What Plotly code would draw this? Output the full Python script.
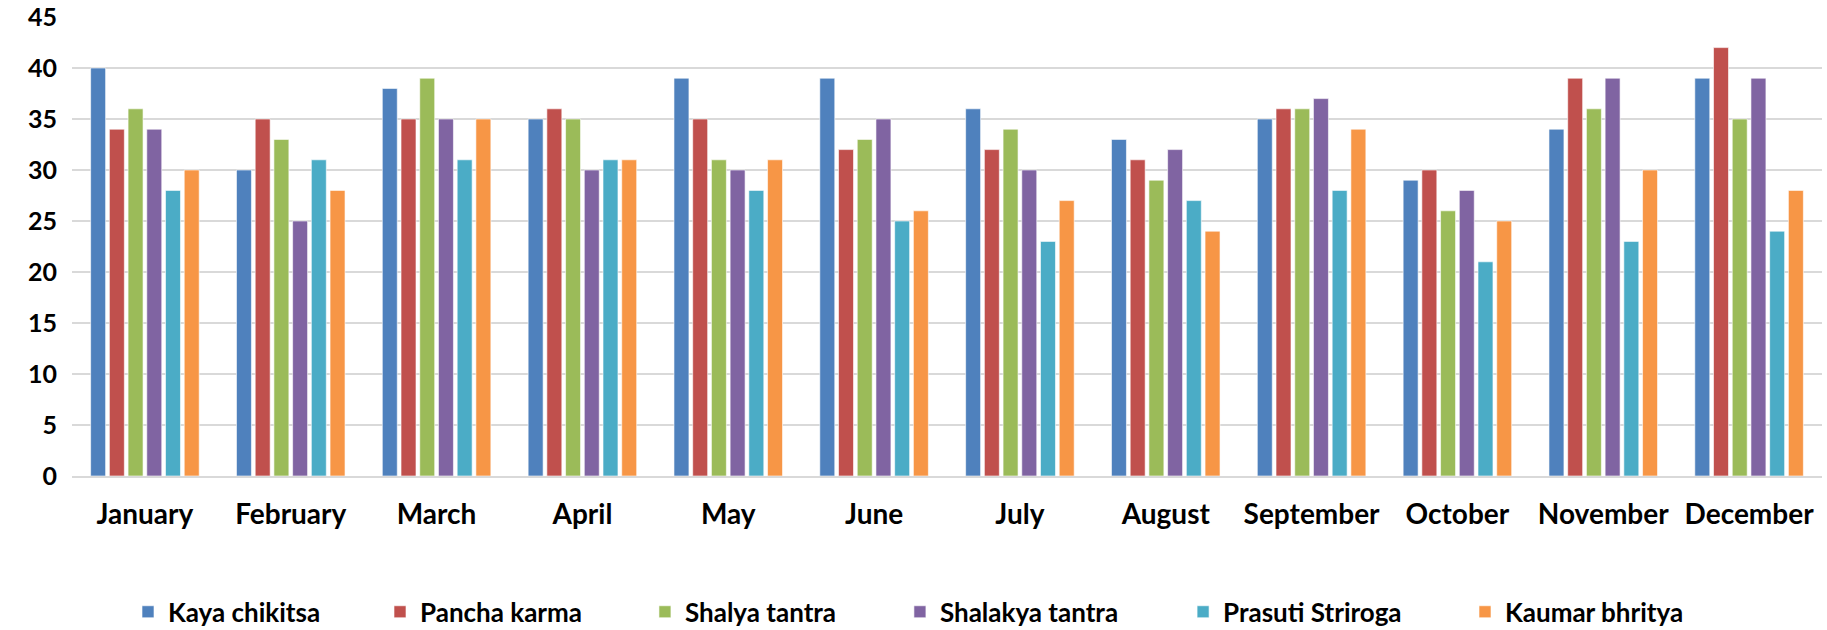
import plotly.graph_objects as go

months = ["January", "February", "March", "April", "May", "June", "July",
          "August", "September", "October", "November", "December"]

kaya_chikitsa = [40, 30, 38, 35, 39, 39, 36, 33, 35, 29, 34, 39]
pancha_karma = [34, 35, 35, 36, 35, 32, 32, 31, 36, 30, 39, 42]
shalya_tantra = [36, 33, 39, 35, 31, 33, 34, 29, 36, 26, 36, 35]
shalakya_tantra = [34, 25, 35, 30, 30, 35, 30, 32, 37, 28, 39, 39]
prasuti_striroga = [28, 31, 31, 31, 28, 25, 23, 27, 28, 21, 23, 24]
kaumar_bhritya = [30, 28, 35, 31, 31, 26, 27, 24, 34, 25, 30, 28]

series_names = ["Kaya chikitsa", "Pancha karma", "Shalya tantra",
                "Shalakya tantra", "Prasuti Striroga", "Kaumar bhritya"]
series_values = [kaya_chikitsa, pancha_karma, shalya_tantra,
                 shalakya_tantra, prasuti_striroga, kaumar_bhritya]
series_colors = ["#4F81BD", "#C0504D", "#9BBB59", "#8064A2", "#4BACC6", "#F79646"]

y_ticks = [0, 5, 10, 15, 20, 25, 30, 35, 40, 45]

# layout: horizontal position of each legend entry (paper fraction)
legend_x = [0.032, 0.176, 0.3274, 0.4731, 0.6349, 0.796]

font_family = "Lato"
legend_font = dict(family=font_family, size=26, color="black", weight="bold")

fig = go.Figure()
layout_legends = {}
for i, (name, vals, col) in enumerate(zip(series_names, series_values, series_colors)):
    key = "legend" if i == 0 else f"legend{i + 1}"
    fig.add_trace(go.Bar(
        x=months, y=vals, name=name,
        marker=dict(color=col, line=dict(color="rgba(255,255,255,0.6)", width=1)),
        legend=key,
    ))
    layout_legends[key] = dict(
        orientation="h",
        x=legend_x[i], xanchor="left",
        y=-0.296, yanchor="middle",
        font=legend_font,
        bgcolor="rgba(0,0,0,0)",
        itemclick=False, itemdoubleclick=False,
    )

fig.update_layout(
    width=1827, height=630,
    barmode="group",
    bargap=0.23,
    bargroupgap=0.2,
    plot_bgcolor="white",
    paper_bgcolor="white",
    margin=dict(l=72, r=5, t=17, b=154, autoexpand=False),
    font=dict(family=font_family, size=24, color="black", weight="bold"),
    showlegend=True,
    **layout_legends,
)
fig.update_yaxes(
    range=[0, 45],
    tickvals=y_ticks,
    showgrid=True, gridcolor="#D9D9D9", gridwidth=2,
    zeroline=False,
    showline=False,
    ticklabelstandoff=14,
    ticklabeloverflow="allow",
    tickfont=dict(family=font_family, size=25, color="black", weight="bold"),
)
fig.update_xaxes(
    showgrid=False,
    showline=True, linecolor="#D9D9D9", linewidth=2,
    ticklabelstandoff=12,
    tickfont=dict(family=font_family, size=28, color="black", weight="bold"),
)

fig.write_html("out.html", config={"displayModeBar": False},
               post_script="document.body.style.margin='0';")
